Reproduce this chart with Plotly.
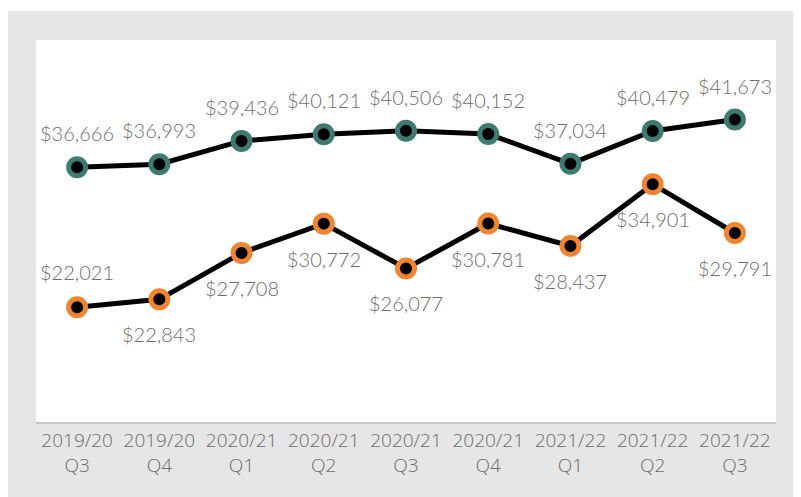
import plotly.graph_objects as go

# datos
quarters = ["2019/20<br>Q3", "2019/20<br>Q4", "2020/21<br>Q1", "2020/21<br>Q2", "2020/21<br>Q3",
            "2020/21<br>Q4", "2021/22<br>Q1", "2021/22<br>Q2", "2021/22<br>Q3"]
upper = [36666, 36993, 39436, 40121, 40506, 40152, 37034, 40479, 41673]
lower = [22021, 22843, 27708, 30772, 26077, 30781, 28437, 34901, 29791]
# posicion de la etiqueta de la serie inferior (1 arriba, -1 abajo)
lower_side = [1, -1, -1, -1, -1, -1, -1, -1, -1]

teal = "#3d7a72"
orange = "#ef8531"
grey_bg = "#e6e6e6"
txt = "#6b6b6b"

# la pagina deja 8px de margen al cuerpo, la figura empieza en (8, 8)
W, H = 793, 489
ml, mr, mt, mb = 28, 25, 32, 75
pw, ph = W - ml - mr, H - mt - mb

fig = go.Figure()
for vals, col in [(upper, teal), (lower, orange)]:
    fig.add_trace(go.Scatter(
        x=quarters, y=vals, mode="lines+markers",
        line=dict(color="black", width=5),
        marker=dict(size=17, color="black", line=dict(color=col, width=5)),
        showlegend=False, hoverinfo="skip"
    ))

label_font = dict(family="Lato Light, Lato", size=20, color="#6e6e6e", weight=300)
annotations = []
for q, v in zip(quarters, upper):
    annotations.append(dict(x=q, y=v, text=f"${v:,}", showarrow=False,
                            yshift=34, font=label_font))
for q, v, s in zip(quarters, lower, lower_side):
    annotations.append(dict(x=q, y=v, text=f"${v:,}", showarrow=False,
                            yshift=35 * s, font=label_font))

# franja blanca arriba del panel gris
shapes = [
    dict(type="rect", xref="paper", yref="paper", layer="below",
         x0=-ml / pw, x1=(W - ml) / pw, y0=(ph + mt - 3) / ph, y1=(H - mb) / ph,
         fillcolor="white", line=dict(width=0)),
]

fig.update_layout(
    width=W, height=H,
    margin=dict(l=ml, r=mr, t=mt, b=mb),
    paper_bgcolor=grey_bg, plot_bgcolor="white",
    annotations=annotations, shapes=shapes,
    xaxis=dict(type="category", range=[-0.5, 8.5], showgrid=False, zeroline=False,
               showline=True, linecolor="#c8c8c8", linewidth=2, ticks="",
               tickfont=dict(family="Open Sans", size=19, color=txt, weight=300)),
    yaxis=dict(range=[10000, 50000], visible=False, showgrid=False, zeroline=False),
)

fig.write_html("out.html")
